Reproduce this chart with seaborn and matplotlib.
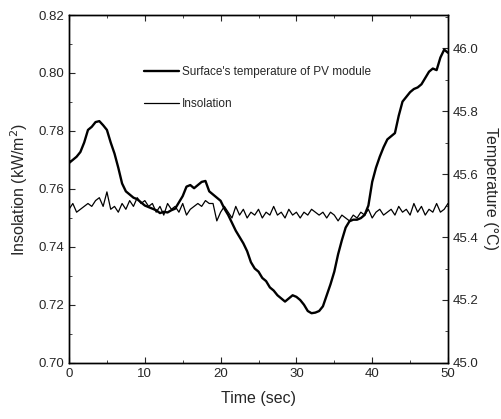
import numpy as np
import pandas as pd
import matplotlib
matplotlib.use('Agg')
import matplotlib.pyplot as plt
from matplotlib.ticker import MultipleLocator
import seaborn as sns

# time axis, 0.5 s steps
time = np.arange(0, 50.5, 0.5)

# surface temperature of PV module (deg C)
temperature = [
    45.635, 45.645, 45.655, 45.670, 45.700, 45.740, 45.750, 45.765, 45.768, 45.755,
    45.740, 45.700, 45.665, 45.620, 45.570, 45.545, 45.535, 45.525, 45.520, 45.510,
    45.500, 45.495, 45.490, 45.485, 45.476, 45.480, 45.478, 45.485, 45.490, 45.510,
    45.530, 45.560, 45.565, 45.555, 45.565, 45.575, 45.578, 45.545, 45.535, 45.525,
    45.515, 45.490, 45.470, 45.445, 45.420, 45.400, 45.380, 45.355, 45.320, 45.300,
    45.290, 45.270, 45.260, 45.240, 45.230, 45.215, 45.205, 45.195, 45.205, 45.215,
    45.210, 45.200, 45.185, 45.165, 45.158, 45.160, 45.165, 45.180, 45.215, 45.250,
    45.290, 45.345, 45.390, 45.430, 45.450, 45.455, 45.455, 45.460, 45.470, 45.500,
    45.575, 45.620, 45.655, 45.685, 45.710, 45.720, 45.730, 45.785, 45.830, 45.845,
    45.860, 45.870, 45.875, 45.885, 45.905, 45.925, 45.935, 45.930, 45.970, 45.995,
    45.985,
]

# insolation (kW/m2)
insolation = [
    0.753, 0.755, 0.752, 0.753, 0.754, 0.755, 0.754, 0.756, 0.757, 0.754,
    0.759, 0.753, 0.754, 0.752, 0.755, 0.753, 0.756, 0.754, 0.757, 0.755,
    0.756, 0.754, 0.755, 0.752, 0.754, 0.751, 0.755, 0.753, 0.754, 0.752,
    0.755, 0.751, 0.753, 0.754, 0.755, 0.754, 0.756, 0.755, 0.755, 0.749,
    0.752, 0.754, 0.752, 0.750, 0.754, 0.751, 0.753, 0.750, 0.752, 0.751,
    0.753, 0.750, 0.752, 0.751, 0.754, 0.751, 0.752, 0.750, 0.753, 0.751,
    0.752, 0.750, 0.752, 0.751, 0.753, 0.752, 0.751, 0.752, 0.750, 0.752,
    0.751, 0.749, 0.751, 0.750, 0.749, 0.751, 0.750, 0.752, 0.751, 0.753,
    0.750, 0.752, 0.753, 0.751, 0.752, 0.753, 0.751, 0.754, 0.752, 0.753,
    0.751, 0.755, 0.752, 0.754, 0.751, 0.753, 0.752, 0.755, 0.752, 0.753,
    0.755,
]

df = pd.DataFrame({'time': time, 'temperature': temperature, 'insolation': insolation})

sns.set_style('ticks')
plt.rcParams['font.family'] = ['Liberation Sans', 'DejaVu Sans']
plt.rcParams['xtick.direction'] = 'in'
plt.rcParams['ytick.direction'] = 'in'

fig = plt.figure(figsize=(5.02, 4.19), dpi=100)
ax = fig.add_axes([0.1375, 0.1337, 0.7549, 0.8305])
ax2 = ax.twinx()

sns.lineplot(data=df, x='time', y='insolation', ax=ax, color='black', lw=0.9,
             label='Insolation', legend=False)
sns.lineplot(data=df, x='time', y='temperature', ax=ax2, color='black', lw=1.7,
             label="Surface's temperature of PV module", legend=False)

ax.set_xlim(0, 50)
ax.set_ylim(0.70, 0.82)
ax2.set_ylim(45.0, 46.105)

ax.xaxis.set_major_locator(MultipleLocator(10))
ax.xaxis.set_minor_locator(MultipleLocator(5))
ax.yaxis.set_major_locator(MultipleLocator(0.02))
ax.yaxis.set_minor_locator(MultipleLocator(0.01))
ax2.yaxis.set_major_locator(MultipleLocator(0.2))
ax2.yaxis.set_minor_locator(MultipleLocator(0.1))
ax.yaxis.set_major_formatter(matplotlib.ticker.FormatStrFormatter('%.2f'))
ax2.yaxis.set_major_formatter(matplotlib.ticker.FormatStrFormatter('%.1f'))

ax.tick_params(axis='x', which='both', top=True, labelsize=9.5)
ax.tick_params(axis='y', which='both', labelsize=9.5)
ax2.tick_params(axis='y', which='both', labelsize=9.5)
ax.tick_params(which='major', length=4)
ax.tick_params(which='minor', length=2)
ax2.tick_params(which='major', length=4)
ax2.tick_params(which='minor', length=2)

for a in (ax, ax2):
    for s in a.spines.values():
        s.set_visible(True)
        s.set_linewidth(1.0)
        s.set_color('black')

ax.set_xlabel('Time (sec)', fontsize=11.5, labelpad=8)
ax.set_ylabel('Insolation (kW/m$^2$)', fontsize=11.5, labelpad=6)
ax2.set_ylabel('Temperature (\u00b0C)', fontsize=11.5, rotation=270, labelpad=14)

h1, l1 = ax2.get_legend_handles_labels()
h2, l2 = ax.get_legend_handles_labels()
ax2.legend(h1 + h2, l1 + l2, loc='upper left', bbox_to_anchor=(0.17, 0.885),
           frameon=False, fontsize=8.5, handlelength=3.0, handletextpad=0.2,
           labelspacing=1.7)

fig.savefig('out.png', dpi=100)
